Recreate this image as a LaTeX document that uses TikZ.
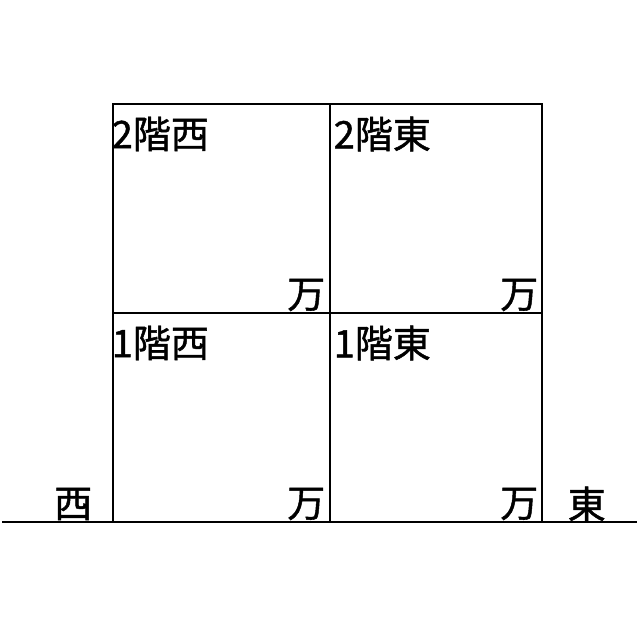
\documentclass[tikz,border=0pt]{standalone}
\usepackage{fontspec}
\newfontfamily\jpfont[FakeBold=1.2]{Noto Sans CJK JP}
\usetikzlibrary{positioning}

\begin{document}
\begin{tikzpicture}[x=1pt, y=-1pt, line width=1.5pt,
    room/.style={anchor=west, inner sep=0pt, font=\jpfont\fontsize{38}{38}\selectfont},
    price/.style={anchor=east, inner sep=0pt, font=\jpfont\fontsize{38}{38}\selectfont}]
    \useasboundingbox (0,0) rectangle (640,640);
    % frame of the house
    \draw (113,522) -- (113,104) -- (542,104) -- (542,522);
    \draw (330,104) -- (330,522);
    \draw (113,313) -- (542,313);
    \draw (2,522) -- (637,522);
    % rooms
    \node[room] (w2) at (111,134) {2階西};
    \node[room] (e2) at (333,134) {2階東};
    \node[room] (w1) at (111,343) {1階西};
    \node[room] (e1) at (333,343) {1階東};
    \node[price] (w2p) at (326,295) {万};
    \node[price] (e2p) at (539,295) {万};
    \node[price] (w1p) at (326,504) {万};
    \node[price] (e1p) at (539,504) {万};
    % directions
    \node[price] (west) at (93,504) {西};
    \node[room] (east) at (567,504) {東};
\end{tikzpicture}
\end{document}
